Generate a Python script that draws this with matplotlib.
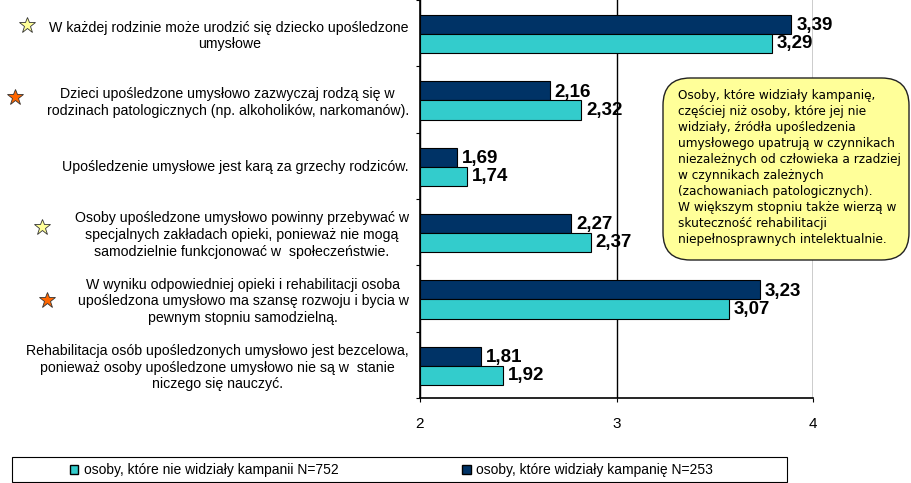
import matplotlib
matplotlib.use("Agg")
import matplotlib.pyplot as plt
from matplotlib.patches import FancyBboxPatch, Rectangle, Patch
from matplotlib.lines import Line2D

plt.rcParams['font.family'] = ['Liberation Sans', 'DejaVu Sans']

# dane
categories = [
    "W każdej rodzinie może urodzić się dziecko upośledzone\numysłowe",
    "Dzieci upośledzone umysłowo zazwyczaj rodzą się w\nrodzinach patologicznych (np. alkoholików, narkomanów).",
    "Upośledzenie umysłowe jest karą za grzechy rodziców.",
    "Osoby upośledzone umysłowo powinny przebywać w\nspecjalnych zakładach opieki, ponieważ nie mogą\nsamodzielnie funkcjonować w  społeczeństwie.",
    "W wyniku odpowiedniej opieki i rehabilitacji osoba\nupośledzona umysłowo ma szansę rozwoju i bycia w\npewnym stopniu samodzielną.",
    "Rehabilitacja osób upośledzonych umysłowo jest bezcelowa,\nponieważ osoby upośledzone umysłowo nie są w  stanie\nniczego się nauczyć.",
]
seen = [3.39, 2.16, 1.69, 2.27, 3.23, 1.81]       # osoby, które widziały kampanię
not_seen = [3.29, 2.32, 1.74, 2.37, 3.07, 1.92]   # osoby, które nie widziały kampanii
x_ticks = [2, 3, 4]
star_colors = ['#FFFF99', '#FF6600', None, '#FFFF99', '#FF6600', None]

note = ("Osoby, które widziały kampanię,\n"
        "częściej niż osoby, które jej nie\n"
        "widziały, źródła upośledzenia\n"
        "umysłowego upatrują w czynnikach\n"
        "niezależnych od człowieka a rzadziej\n"
        "w czynnikach zależnych\n"
        "(zachowaniach patologicznych).\n"
        "W większym stopniu także wierzą w\n"
        "skuteczność rehabilitacji\n"
        "niepełnosprawnych intelektualnie.")

SHIFT = 0.5   # slupki w oryginale sa przesuniete o 0.5 wzgledem osi
BASE = 2
NAVY = '#003366'
CYAN = '#33CCCC'
W, H = 911, 483

fig = plt.figure(figsize=(W / 100, H / 100), dpi=100)
ax = fig.add_axes([420 / W, 1 - 398 / H, 393 / W, 398 / H])

y = list(range(len(categories)))
bh = 0.29
y_seen = [i - 0.13 for i in y]
y_not = [i + 0.16 for i in y]

ax.barh(y_seen, [v + SHIFT - BASE for v in seen], left=BASE, height=bh,
        color=NAVY, edgecolor='black', linewidth=0.8, zorder=3)
ax.barh(y_not, [v + SHIFT - BASE for v in not_seen], left=BASE, height=bh,
        color=CYAN, edgecolor='black', linewidth=0.8, zorder=3)

for yy, v in zip(y_seen, seen):
    ax.annotate(f"{v:.2f}".replace('.', ','), (v + SHIFT, yy), xytext=(3.5, -1),
                textcoords='offset points', va='center', ha='left',
                fontsize=13.5, fontweight='bold', zorder=4)
for yy, v in zip(y_not, not_seen):
    ax.annotate(f"{v:.2f}".replace('.', ','), (v + SHIFT, yy), xytext=(3.5, 0),
                textcoords='offset points', va='center', ha='left',
                fontsize=13.5, fontweight='bold', zorder=4)

ax.set_xlim(2, 4)
ax.set_ylim(len(categories) - 0.5, -0.5)
ax.set_xticks(x_ticks)
ax.set_xticklabels([str(t) for t in x_ticks], fontsize=11)
ax.tick_params(axis='x', direction='out', length=3, width=0.8, pad=11)
ax.set_yticks(y)
ax.set_yticklabels(categories, fontsize=10.2, multialignment='center', linespacing=1.25)
ax.tick_params(axis='y', length=0, pad=8)
ax.set_yticks([i - 0.5 for i in range(len(categories) + 1)], minor=True)
ax.tick_params(axis='y', which='minor', direction='out', length=3, width=0.8)
ax.xaxis.grid(True, color='black', linewidth=1)
ax.set_axisbelow(True)
for s in ['top', 'right']:
    ax.spines[s].set_visible(False)
for s in ['left', 'bottom']:
    ax.spines[s].set_linewidth(1.2)

# gwiazdki przy stwierdzeniach
star_pos = [(27, 25), (15, 97), None, (42, 227), (47, 300), None]
for c, p in zip(star_colors, star_pos):
    if c is None:
        continue
    fig.add_artist(Line2D([p[0] / W], [1 - p[1] / H], marker='*', markersize=12,
                          markerfacecolor=c, markeredgecolor='#333333',
                          markeredgewidth=0.6, transform=fig.transFigure))

# ramka z komentarzem
box = FancyBboxPatch((663 / W, 1 - 260 / H), 246 / W, 182 / H,
                     boxstyle="round,pad=0,rounding_size=0.03",
                     mutation_aspect=W / H,
                     facecolor='#FFFF99', edgecolor='#222222', linewidth=1,
                     transform=fig.transFigure, zorder=5)
fig.add_artist(box)
fig.text(678 / W, 1 - 89 / H, note, family='DejaVu Sans', fontsize=8.7,
         va='top', ha='left', linespacing=1.3, zorder=6)

# legenda
fig.add_artist(Rectangle((12 / W, 1 - 482 / H), 775 / W, 25 / H, fill=False,
                         edgecolor='black', linewidth=0.8, transform=fig.transFigure))
handles = [Patch(facecolor=CYAN, edgecolor='black'), Patch(facecolor=NAVY, edgecolor='black')]
labels = ["osoby, które nie widziały kampanii N=752", "osoby, które widziały kampanię N=253"]
fig.legend(handles, labels, loc='center left', bbox_to_anchor=(70 / W, 1 - 470 / H),
           ncol=2, frameon=False, fontsize=10, handlelength=0.6, handleheight=0.6,
           handletextpad=0.4, columnspacing=8.9, borderpad=0, borderaxespad=0)

fig.savefig("out.png", dpi=100)
